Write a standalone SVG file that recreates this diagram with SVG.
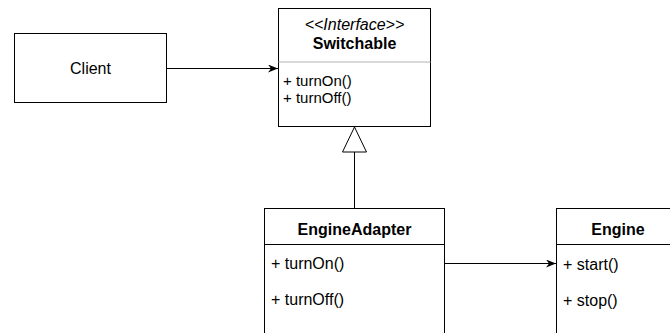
<svg xmlns="http://www.w3.org/2000/svg" width="670" height="333" viewBox="0 0 670 333">
<style>
text{font-family:"Liberation Sans",Arial,sans-serif;font-size:16px;fill:#000}
.b{font-weight:bold}
.i{font-style:italic}
.c{text-anchor:middle}
.s{font-size:15px}
.box{fill:#fff;stroke:#000;stroke-width:1}
.ln{stroke:#000;stroke-width:1;fill:none}
</style>
<defs>
<marker id="arr" markerWidth="10" markerHeight="8" refX="10" refY="4" orient="auto" markerUnits="userSpaceOnUse">
<path d="M0,0 L10,4 L0,8 L3,4 Z" fill="#000"/>
</marker>
</defs>
<rect width="670" height="333" fill="#fff"/>
<g id="client">
<rect class="box" x="14.5" y="33.5" width="152" height="69"/>
<text class="c" x="90.5" y="74">Client</text>
</g>
<g id="switchable">
<rect class="box" x="278.5" y="8.5" width="152" height="118"/>
<line x1="278.5" y1="62" x2="430.5" y2="62" stroke="#b3b3b3" stroke-width="1"/>
<text class="c i" x="354.5" y="30">&lt;&lt;Interface&gt;&gt;</text>
<text class="c b" x="354.5" y="49">Switchable</text>
<text class="s" x="283" y="85.5">+ turnOn()</text>
<text class="s" x="283" y="102.5">+ turnOff()</text>
</g>
<g id="engineadapter">
<rect class="box" x="264.5" y="208.5" width="180" height="140"/>
<line class="ln" x1="264.5" y1="244.5" x2="444.5" y2="244.5"/>
<text class="c b" x="354.5" y="235">EngineAdapter</text>
<text x="271" y="269">+ turnOn()</text>
<text x="271" y="305">+ turnOff()</text>
</g>
<g id="engine">
<rect class="box" x="556.5" y="208.5" width="130" height="140"/>
<line class="ln" x1="556.5" y1="244.5" x2="686.5" y2="244.5"/>
<text class="c b" x="618" y="235">Engine</text>
<text x="563" y="270">+ start()</text>
<text x="563" y="306">+ stop()</text>
</g>
<g id="connectors">
<line class="ln" x1="166.5" y1="68.5" x2="278" y2="68.5" marker-end="url(#arr)"/>
<line class="ln" x1="354.5" y1="208" x2="354.5" y2="152"/>
<path class="ln" d="M354.5,127 L366.5,152 L342.5,152 Z" fill="#fff"/>
<line class="ln" x1="444.5" y1="263.5" x2="556" y2="263.5" marker-end="url(#arr)"/>
</g>
</svg>
